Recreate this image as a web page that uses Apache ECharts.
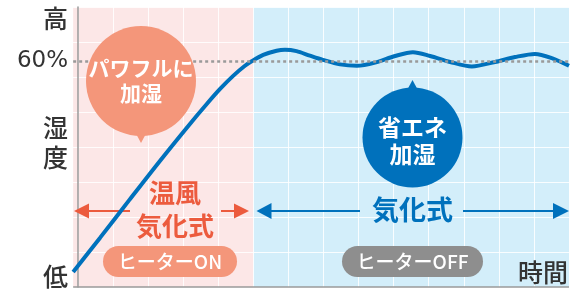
<!DOCTYPE html>
<html>
<head>
<meta charset="utf-8">
<script src="https://cdn.jsdelivr.net/npm/echarts@6/dist/echarts.min.js"></script>
<style>
html, body { margin: 0; padding: 0; background: #fff; }
#chart { width: 581px; height: 291px; }
</style>
</head>
<body>
<div id="chart"></div>
<script>
// time in grid cells, humidity in arbitrary level units (80 = top of chart)
var timeX = [-0.14, 0.63, 1.48, 2.34, 3.19, 3.67, 4.05, 4.43, 4.76, 4.95, 5.28, 5.66, 5.9, 6.23, 6.61, 6.98, 7.47, 7.95, 8.47, 9.04, 9.55, 10.04, 10.61, 11.23, 11.89, 12.46, 13.03, 13.51, 14];
var humidity = [4.3, 14.1, 25.1, 36.1, 46.6, 52.3, 56.6, 60.4, 63.2, 64.5, 66.3, 67.5, 67.8, 67.4, 66.1, 64.9, 63.6, 63.2, 64.1, 66.0, 67.1, 66.0, 64.3, 63.0, 64.3, 65.7, 66.6, 65.4, 63.2];

var yLabelValues = [3.1, 41.4, 64.6, 76.7];
var yLabelTexts = ['低', '湿\n度', '60%', '高'];
var targetLevel = 64.6;   // the 60% line
var xStart = -0.14;
var heaterOff = 5;        // heater switches off here
var xEnd = 14;

var JP = '"Noto Sans CJK JP", "Noto Sans", sans-serif';
var red = '#ec5b3e', salmon = '#f4967a', blue = '#0071bc';

var curve = timeX.map(function (x, i) { return [x, humidity[i]]; });

var myChart = echarts.init(document.getElementById('chart'));

var option = {
    animation: false,
    grid: { left: 43, right: 12, top: 7, bottom: 4, outerBoundsMode: 'none' },
    xAxis: {
        type: 'value', min: -1, max: 14, interval: 1,
        axisLine: { show: false }, axisTick: { show: false }, axisLabel: { show: false },
        splitLine: { lineStyle: { color: 'rgba(255,255,255,0.85)', width: 1 } }
    },
    yAxis: {
        type: 'value', min: 0, max: 80, interval: 10, offset: -30,
        axisLine: { show: true, lineStyle: { color: '#9a9a9a', width: 1.5 } },
        axisTick: { show: false },
        splitLine: { lineStyle: { color: 'rgba(255,255,255,0.85)', width: 1 } },
        axisLabel: {
            customValues: yLabelValues,
            margin: 5,
            formatter: function (v) {
                var t = yLabelTexts[yLabelValues.indexOf(v)];
                if (t === '60%') return '{p|60%}';
                return t.split('\n').map(function (c) { return '{k|' + c + '}'; }).join('\n');
            },
            rich: {
                k: { fontSize: 25, fontWeight: 500, fontFamily: JP, color: '#333', lineHeight: 30 },
                p: { fontSize: 23, fontFamily: 'DejaVu Sans', color: '#333' }
            }
        }
    },
    series: [{
        type: 'line',
        data: curve,
        smooth: 0.3,
        showSymbol: false,
        lineStyle: { color: blue, width: 4 },
        markLine: {
            silent: true, symbol: 'none', label: { show: false },
            data: [
                [{ coord: [xStart, targetLevel], lineStyle: { color: '#9a9a9a', width: 2.5, type: [3, 3] } },
                 { coord: [xEnd, targetLevel] }],
                [{ coord: [xStart, 0], lineStyle: { color: '#9a9a9a', width: 1.5, type: 'solid' } },
                 { coord: [xEnd, 0] }]
            ]
        }
    }]
};
myChart.setOption(option);

var pa = myChart.convertToPixel({ gridIndex: 0 }, [xStart, 80]);
var pb = myChart.convertToPixel({ gridIndex: 0 }, [heaterOff, 0]);
var pc = myChart.convertToPixel({ gridIndex: 0 }, [xEnd, 0]);

function txt(s, x, y, size, color, weight, align) {
    return { type: 'text', z: 6, style: { text: s, x: x, y: y, fill: color, fontSize: size,
        fontWeight: weight || 'normal', fontFamily: JP, align: align || 'center', verticalAlign: 'middle' } };
}
function tri(pts, color) {
    return { type: 'polygon', z: 1, shape: { points: pts }, style: { fill: color } };
}
function seg(x1, x2, y, color) {
    return { type: 'line', z: 1, shape: { x1: x1, y1: y, x2: x2, y2: y }, style: { stroke: color, lineWidth: 2 } };
}

myChart.setOption({
    graphic: [
        { type: 'rect', z: -1, shape: { x: pa[0], y: pa[1], width: pb[0] - pa[0], height: pb[1] - pa[1] }, style: { fill: '#fce7e7' } },
        { type: 'rect', z: -1, shape: { x: pb[0], y: pa[1], width: pc[0] - pb[0], height: pb[1] - pa[1] }, style: { fill: '#d3eefa' } },

        // heater-on bubble
        { type: 'circle', z: 5, shape: { cx: 141, cy: 81, r: 55 }, style: { fill: salmon } },
        { type: 'polygon', z: 5, shape: { points: [[134, 130], [148, 130], [141, 143]] }, style: { fill: salmon } },
        txt('パワフルに', 141, 68, 21, '#fff', 'bold'),
        txt('加湿', 141, 93, 21, '#fff', 'bold'),

        // heater-off bubble
        { type: 'circle', z: 5, shape: { cx: 412.5, cy: 137.5, r: 50 }, style: { fill: blue } },
        { type: 'polygon', z: 5, shape: { points: [[405.5, 93], [419.5, 93], [412.5, 80]] }, style: { fill: blue } },
        txt('省エネ', 412.5, 127.5, 23, '#fff', 'bold'),
        txt('加湿', 412.5, 154, 23, '#fff', 'bold'),

        // warm-air range arrow
        seg(88, 130, 211, red), seg(221, 234, 211, red),
        tri([[74, 211], [89, 203.5], [89, 218.5]], red),
        tri([[249, 211], [234, 203.5], [234, 218.5]], red),
        txt('温風', 175, 193.5, 26, red, 'bold'),
        txt('気化式', 175, 226, 26, red, 'bold'),

        // evaporative range arrow
        seg(271, 360, 211, blue), seg(463, 554, 211, blue),
        tri([[256.5, 211], [271.5, 203], [271.5, 219]], blue),
        tri([[569, 211], [553, 203], [553, 219]], blue),
        txt('気化式', 412.5, 210, 27, blue, 'bold'),

        // pills
        { type: 'rect', z: 5, shape: { x: 103, y: 246, width: 134, height: 31, r: 15.5 }, style: { fill: salmon } },
        txt('ヒーターON', 170, 262, 19, '#fff', 500),
        { type: 'rect', z: 5, shape: { x: 342, y: 246, width: 141, height: 31, r: 15.5 }, style: { fill: '#8e8e8e' } },
        txt('ヒーターOFF', 412.5, 262, 19, '#fff', 500),

        txt('時間', 568, 272, 25, '#333', 500, 'right')
    ]
});
</script>
</body>
</html>
